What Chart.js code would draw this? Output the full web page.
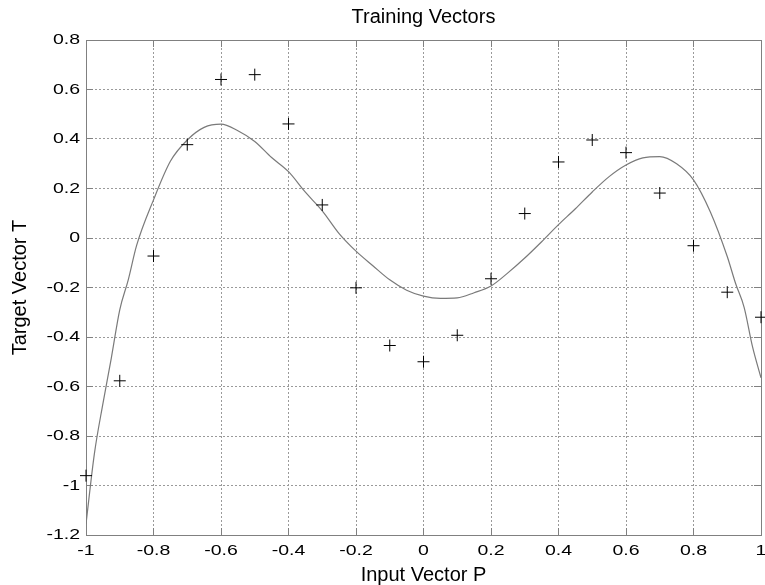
<!DOCTYPE html>
<html>
<head>
<meta charset="utf-8">
<title>Training Vectors</title>
<script src="https://cdn.jsdelivr.net/npm/chart.js@4/dist/chart.umd.min.js"></script>
<style>
  html, body { margin: 0; padding: 0; background: #ffffff; }
  #wrap { width: 765px; height: 585px; }
</style>
</head>
<body>
<div id="wrap"><canvas id="chart" width="765" height="585"></canvas></div>
<script>
// Training inputs and targets
const inputP = [-1, -0.9, -0.8, -0.7, -0.6, -0.5, -0.4, -0.3, -0.2, -0.1, 0,
                0.1, 0.2, 0.3, 0.4, 0.5, 0.6, 0.7, 0.8, 0.9, 1];
const targetT = [-0.9602, -0.5770, -0.0729, 0.3771, 0.6405, 0.6600, 0.4609, 0.1336, -0.2013, -0.4344, -0.5000,
                 -0.3930, -0.1647, 0.0988, 0.3072, 0.3960, 0.3449, 0.1816, -0.0312, -0.2189, -0.3201];

// Network response sampled along the input range
const curveP = [-1, -0.975, -0.95, -0.925, -0.9, -0.875, -0.85, -0.8, -0.75, -0.7, -0.65, -0.6,
                -0.55, -0.5, -0.45, -0.4, -0.35, -0.3, -0.25, -0.2, -0.15, -0.1, -0.05, 0,
                0.05, 0.1, 0.15, 0.2, 0.25, 0.3, 0.35, 0.4, 0.45, 0.5, 0.55, 0.6, 0.65, 0.7,
                0.75, 0.8, 0.85, 0.9, 0.925, 0.95, 0.975, 1];
const curveA = [-1.155, -0.87, -0.67, -0.485, -0.29, -0.17, -0.03, 0.154, 0.31, 0.396, 0.447, 0.46,
                0.433, 0.39, 0.325, 0.268, 0.185, 0.11, 0.018, -0.053, -0.112, -0.169, -0.211, -0.235,
                -0.244, -0.242, -0.221, -0.194, -0.141, -0.081, -0.015, 0.054, 0.118, 0.186, 0.248, 0.295, 0.324, 0.329,
                0.30, 0.235, 0.105, -0.075, -0.185, -0.28, -0.44, -0.565];

// Axis tick values
const xTicks = [-1, -0.8, -0.6, -0.4, -0.2, 0, 0.2, 0.4, 0.6, 0.8, 1];
const yTicks = [-1.2, -1, -0.8, -0.6, -0.4, -0.2, 0, 0.2, 0.4, 0.6, 0.8];

const FONT = "'Liberation Sans', Arial, Helvetica, sans-serif";
const AXIS_GRAY = '#808080';
const GRID_GRAY = '#9a9a9a';
const LABEL_STRETCH = 1.3;   // horizontal widening of tick label glyphs

// Linear scale whose tick labels are drawn with horizontally widened glyphs
class WideLabelLinearScale extends Chart.LinearScale {
  static id = 'wideLabelLinear';
  drawLabels(chartArea) {
    const ctx = this.ctx;
    const baseRotate = CanvasRenderingContext2D.prototype.rotate;
    // each label is translated to its anchor, then rotated; widen right after that
    ctx.rotate = function (angle) {
      baseRotate.call(this, angle);
      this.scale(LABEL_STRETCH, 1);
    };
    try {
      super.drawLabels(chartArea);
    } finally {
      delete ctx.rotate;
    }
  }
}
Chart.register(WideLabelLinearScale);

const fmt = v => String(Number(v.toFixed(1)));

function tickSet(values) {
  return function (scale) {
    scale.ticks = values.map(v => ({ value: v }));
  };
}

function fixSize(prop, size) {
  return function (scale) {
    scale[prop] = size;
    scale.paddingLeft = 0;
    scale.paddingRight = 0;
    scale.paddingTop = 0;
    scale.paddingBottom = 0;
  };
}

const commonGrid = {
  color: GRID_GRAY,
  lineWidth: 1,
  drawTicks: true,
  tickLength: -7,
  tickColor: AXIS_GRAY,
  tickWidth: 1,
  tickBorderDash: []
};

const ctx = document.getElementById('chart').getContext('2d');
new Chart(ctx, {
  type: 'scatter',
  data: {
    datasets: [
      {
        label: 'Targets',
        data: inputP.map((p, i) => ({ x: p, y: targetT[i] })),
        pointStyle: 'cross',
        pointRadius: 6,
        pointHoverRadius: 6,
        pointBorderWidth: 1,
        borderColor: '#000000',
        backgroundColor: '#000000',
        showLine: false,
        clip: false
      },
      {
        label: 'Network output',
        data: curveP.map((p, i) => ({ x: p, y: curveA[i] })),
        showLine: true,
        borderColor: '#7a7a7a',
        borderWidth: 1.2,
        pointRadius: 0,
        cubicInterpolationMode: 'monotone',
        fill: false
      }
    ]
  },
  options: {
    responsive: false,
    animation: false,
    events: [],
    layout: { autoPadding: false, padding: { left: 0, right: 4, top: 0, bottom: 0 } },
    plugins: {
      legend: { display: false },
      tooltip: { enabled: false },
      title: {
        display: true,
        fullSize: false,
        text: 'Training Vectors',
        color: '#000000',
        font: { family: FONT, size: 20, weight: 'normal', lineHeight: 1.2 },
        padding: { top: 5, bottom: 11 }
      }
    },
    scales: {
      x: {
        type: 'wideLabelLinear',
        position: 'bottom',
        min: -1, max: 1,
        afterBuildTicks: tickSet(xTicks),
        afterFit: fixSize('height', 50),
        grid: { ...commonGrid },
        border: { display: true, color: AXIS_GRAY, width: 1, dash: [2, 2] },
        ticks: {
          color: '#000000',
          font: { family: FONT, size: 15, lineHeight: 1.2 },
          padding: 13.5,
          autoSkip: false,
          maxRotation: 0,
          callback: fmt
        },
        title: {
          display: true,
          text: 'Input Vector P',
          color: '#000000',
          font: { family: FONT, size: 20, lineHeight: 1 },
          padding: { top: 0, bottom: 0 }
        }
      },
      y: {
        type: 'wideLabelLinear',
        position: 'left',
        min: -1.2, max: 0.8,
        afterBuildTicks: tickSet(yTicks),
        afterFit: fixSize('width', 86),
        grid: { ...commonGrid },
        border: { display: true, color: AXIS_GRAY, width: 1, dash: [2, 2] },
        ticks: {
          color: '#000000',
          font: { family: FONT, size: 15, lineHeight: 1.2 },
          padding: 13,
          autoSkip: false,
          callback: fmt
        },
        title: {
          display: true,
          text: 'Target Vector T',
          color: '#000000',
          font: { family: FONT, size: 20, lineHeight: 1 },
          padding: { top: 10, bottom: 0 }
        }
      },
      xTop: {
        type: 'linear',
        position: 'top',
        min: -1, max: 1,
        afterBuildTicks: tickSet(xTicks),
        afterFit: fixSize('height', 0),
        grid: { ...commonGrid, drawOnChartArea: false },
        border: { display: true, color: AXIS_GRAY, width: 1 },
        ticks: { display: false }
      },
      yRight: {
        type: 'linear',
        position: 'right',
        min: -1.2, max: 0.8,
        afterBuildTicks: tickSet(yTicks),
        afterFit: fixSize('width', 0),
        grid: { ...commonGrid, drawOnChartArea: false },
        border: { display: true, color: AXIS_GRAY, width: 1 },
        ticks: { display: false }
      }
    }
  }
});
</script>
</body>
</html>
